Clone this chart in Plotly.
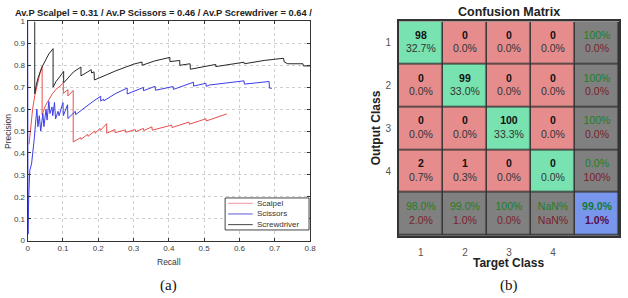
import numpy as np
import plotly.graph_objects as go

# ---------------- Precision-recall data ----------------
scalpel_recall = [0.004, 0.008, 0.014, 0.020, 0.028, 0.035, 0.041, 0.041, 0.050, 0.060, 0.070, 0.080,
                  0.090, 0.101, 0.101, 0.114, 0.114, 0.129, 0.129, 0.150, 0.151, 0.170, 0.171, 0.190,
                  0.191, 0.205, 0.206, 0.224, 0.224, 0.247, 0.248, 0.277, 0.278, 0.305, 0.306, 0.328,
                  0.329, 0.352, 0.353, 0.408, 0.409, 0.457, 0.458, 0.505, 0.506, 0.564]
scalpel_precision = [0.440, 0.520, 0.600, 0.660, 0.720, 0.765, 0.795, 0.575, 0.615, 0.645, 0.670, 0.690,
                     0.705, 0.718, 0.672, 0.689, 0.660, 0.685, 0.450, 0.470, 0.462, 0.485, 0.476, 0.500,
                     0.490, 0.512, 0.503, 0.534, 0.490, 0.507, 0.493, 0.505, 0.494, 0.507, 0.497, 0.512,
                     0.502, 0.519, 0.504, 0.527, 0.516, 0.541, 0.531, 0.556, 0.546, 0.578]

scissors_recall = [0.000, 0.001, 0.003, 0.006, 0.011, 0.016, 0.019, 0.022, 0.026, 0.029, 0.033, 0.037,
                   0.043, 0.046, 0.052, 0.055, 0.060, 0.063, 0.069, 0.071, 0.076, 0.079, 0.086, 0.089,
                   0.100, 0.101, 0.113, 0.114, 0.135, 0.136, 0.160, 0.185, 0.207, 0.207, 0.215, 0.216,
                   0.250, 0.282, 0.282, 0.328, 0.328, 0.361, 0.362, 0.412, 0.413, 0.470, 0.470, 0.505,
                   0.506, 0.515, 0.613, 0.614, 0.684, 0.685, 0.692]
scissors_precision = [1.000, 0.030, 0.200, 0.320, 0.350, 0.410, 0.470, 0.530, 0.600, 0.520, 0.570, 0.500,
                      0.580, 0.520, 0.600, 0.550, 0.635, 0.580, 0.610, 0.570, 0.630, 0.555, 0.590, 0.570,
                      0.630, 0.570, 0.620, 0.557, 0.590, 0.575, 0.605, 0.635, 0.659, 0.637, 0.645, 0.638,
                      0.672, 0.696, 0.669, 0.699, 0.684, 0.704, 0.686, 0.703, 0.690, 0.723, 0.705, 0.718,
                      0.704, 0.710, 0.729, 0.714, 0.726, 0.696, 0.695]

screwdriver_recall = [0.020, 0.020, 0.025, 0.030, 0.040, 0.050, 0.060, 0.072, 0.072, 0.080, 0.090, 0.102,
                      0.102, 0.115, 0.130, 0.151, 0.151, 0.165, 0.180, 0.181, 0.188, 0.189, 0.220, 0.250,
                      0.280, 0.300, 0.324, 0.324, 0.360, 0.403, 0.403, 0.431, 0.431, 0.460, 0.461, 0.500,
                      0.533, 0.533, 0.613, 0.614, 0.670, 0.725, 0.727, 0.737, 0.780, 0.781, 0.800]
screwdriver_precision = [1.000, 0.670, 0.715, 0.745, 0.790, 0.825, 0.852, 0.876, 0.700, 0.725, 0.748, 0.772,
                         0.720, 0.745, 0.770, 0.792, 0.752, 0.765, 0.780, 0.765, 0.770, 0.733, 0.755, 0.775,
                         0.793, 0.805, 0.815, 0.800, 0.820, 0.836, 0.817, 0.822, 0.800, 0.807, 0.782, 0.795,
                         0.804, 0.794, 0.814, 0.807, 0.822, 0.832, 0.815, 0.807, 0.807, 0.797, 0.797]

series_names = ["Scalpel", "Scissors", "Screwdriver"]
pr_title = "Av.P Scalpel = 0.31 / Av.P Scissors = 0.46 / Av.P Screwdriver = 0.64 /"
pr_ticks = [0, 0.1, 0.2, 0.3, 0.4, 0.5, 0.6, 0.7, 0.8]
pr_yticks = [0, 0.1, 0.2, 0.3, 0.4, 0.5, 0.6, 0.7, 0.8, 0.9, 1]

# ---------------- Confusion matrix data ----------------
class_labels = ["1", "2", "3", "4"]
counts = [[98, 0, 0, 0],
          [0, 99, 0, 0],
          [0, 0, 100, 0],
          [2, 1, 0, 0]]

W, H = 628, 298
FONT = "Liberation Sans, Arial, sans-serif"
AX = "#404040"


def px_x(p):
    return p / W


def px_y(p):
    return 1 - p / H


fig = go.Figure()

line_colors = ["rgb(232,80,80)", "rgb(60,60,235)", "rgb(40,40,40)"]
legend_colors = ["rgb(240,150,155)", "rgb(90,90,220)", "rgb(70,70,70)"]
for name, r, p, c in zip(series_names,
                         [scalpel_recall, scissors_recall, screwdriver_recall],
                         [scalpel_precision, scissors_precision, screwdriver_precision],
                         line_colors):
    fig.add_trace(go.Scatter(x=r, y=p, mode="lines", name=name, showlegend=False,
                             line=dict(color=c, width=1), xaxis="x", yaxis="y",
                             hoverinfo="skip"))

# ---- confusion matrix computation ----
M = np.array(counts, dtype=float)
n = M.shape[0]
total = M.sum()


def pct(v):
    if np.isnan(v):
        return "NaN%"
    if abs(v - 100) < 1e-9:
        return "100%"
    return f"{v:.1f}%"


GREEN_TXT = "#1f7f1f"
RED_TXT = "#7a1f2a"
z = np.zeros((n + 1, n + 1))
texts = []
xs, ys = [], []
for i in range(n + 1):
    for j in range(n + 1):
        xs.append(j)
        ys.append(i)
        if i < n and j < n:
            z[i, j] = 1 if i == j else 0
            texts.append(f"<b>{int(M[i, j])}</b><br><span style='color:#333'>{pct(M[i, j] / total * 100)}</span>")
        else:
            if i == n and j == n:
                z[i, j] = 3
                acc = np.trace(M) / total * 100
                texts.append(f"<b><span style='color:#137a3a'>{pct(acc)}</span></b><br>"
                             f"<b><span style='color:#5a0a40'>{pct(100 - acc)}</span></b>")
                continue
            z[i, j] = 2
            if j == n:
                s = M[i].sum()
                acc = M[i, i] / s * 100 if s > 0 else np.nan
            else:
                s = M[:, j].sum()
                acc = M[j, j] / s * 100 if s > 0 else np.nan
            err = 100 - acc if not np.isnan(acc) else np.nan
            texts.append(f"<span style='color:{GREEN_TXT}'>{pct(acc)}</span><br>"
                         f"<span style='color:{RED_TXT}'>{pct(err)}</span>")

cm_scale = [[0, "#e68c8c"], [1 / 3, "#78e2b0"], [2 / 3, "#808080"], [1, "#7896ec"]]
fig.add_trace(go.Heatmap(z=z, x=list(range(n + 1)), y=list(range(n + 1)),
                         colorscale=cm_scale, zmin=0, zmax=3, showscale=False,
                         xgap=1.5, ygap=1.5, xaxis="x2", yaxis="y2", hoverinfo="skip"))
fig.add_trace(go.Scatter(x=xs, y=ys, text=texts, mode="text", showlegend=False,
                         textfont=dict(family=FONT, size=10.5, color="#111"),
                         xaxis="x2", yaxis="y2", hoverinfo="skip"))

layout = dict(
    width=W, height=H, margin=dict(l=0, r=0, t=0, b=0),
    paper_bgcolor="white", plot_bgcolor="white",
    font=dict(family=FONT, color=AX),
    showlegend=False,
    xaxis=dict(domain=[px_x(26), px_x(312)], range=[0, 0.8], tickvals=pr_ticks,
               ticktext=[f"{t:g}" for t in pr_ticks],
               showline=True, mirror="ticks", linecolor="#333", linewidth=1,
               ticks="inside", ticklen=3, tickcolor="#333",
               showgrid=True, gridcolor="#cfcfcf", griddash="dot", zeroline=False,
               tickfont=dict(size=8, color=AX), anchor="y"),
    yaxis=dict(domain=[px_y(244), px_y(18)], range=[0, 1], tickvals=pr_yticks,
               ticktext=[f"{t:g}" for t in pr_yticks],
               showline=True, mirror="ticks", linecolor="#333", linewidth=1,
               ticks="inside", ticklen=3, tickcolor="#333",
               showgrid=True, gridcolor="#cfcfcf", griddash="dot", zeroline=False,
               tickfont=dict(size=8, color=AX), anchor="x"),
    xaxis2=dict(domain=[px_x(402), px_x(625)], range=[-0.5, n + 0.5],
                tickvals=list(range(n)), ticktext=class_labels,
                showline=True, mirror=True, linecolor="#333", linewidth=1.5,
                ticks="", showgrid=False, zeroline=False, anchor="y2",
                tickfont=dict(size=10, color="#555"), ticklabelstandoff=6),
    yaxis2=dict(domain=[px_y(239), px_y(18)], range=[n + 0.5, -0.5],
                tickvals=list(range(n)), ticktext=class_labels,
                showline=True, mirror=True, linecolor="#333", linewidth=1.5,
                ticks="", showgrid=False, zeroline=False, anchor="x2",
                tickfont=dict(size=10, color="#555"), ticklabelstandoff=4),
)
fig.update_layout(**layout)

# ---- shapes: dark background behind matrix (grid lines) + manual legend box ----
shapes = [dict(type="rect", xref="x2 domain", yref="y2 domain", x0=0, x1=1, y0=0, y1=1,
               fillcolor="#333", line=dict(width=0), layer="below"),
          dict(type="rect", xref="paper", yref="paper", x0=px_x(226), x1=px_x(311),
               y0=px_y(233), y1=px_y(200), fillcolor="white", line=dict(color="#444", width=1))]
ann = []
for k, (name, c) in enumerate(zip(series_names, legend_colors)):
    yy = 205.5 + 11 * k
    shapes.append(dict(type="line", xref="paper", yref="paper", x0=px_x(229), x1=px_x(254),
                       y0=px_y(yy), y1=px_y(yy), line=dict(color=c, width=1)))
    ann.append(dict(text=name, x=px_x(256), y=px_y(yy), xanchor="left", yanchor="middle",
                    font=dict(size=8, color="#333")))
fig.update_layout(shapes=shapes)

ann += [
    dict(text=f"<b>{pr_title}</b>", x=px_x(164), y=px_y(9), font=dict(size=9.3, color="#222")),
    dict(text="Recall", x=px_x(169), y=px_y(266), font=dict(size=8.5, color="#333")),
    dict(text="Precision", x=px_x(6), y=px_y(131), textangle=-90, font=dict(size=8.5, color="#333")),
    dict(text="(a)", x=px_x(169), y=px_y(290), font=dict(size=15, color="#111",
                                                        family="Liberation Serif, Times New Roman, serif")),
    dict(text="<b>Confusion Matrix</b>", x=px_x(514), y=px_y(8), font=dict(size=12.5, color="#222")),
    dict(text="<b>Target Class</b>", x=px_x(513), y=px_y(267), font=dict(size=12, color="#222")),
    dict(text="<b>Output Class</b>", x=px_x(379), y=px_y(128), textangle=-90, font=dict(size=12, color="#222")),
    dict(text="(b)", x=px_x(514), y=px_y(290), font=dict(size=15, color="#111",
                                                        family="Liberation Serif, Times New Roman, serif")),
]
for a in ann:
    a.setdefault("xanchor", "center")
    a.setdefault("yanchor", "middle")
    a.update(xref="paper", yref="paper", showarrow=False)
fig.update_layout(annotations=ann)

fig.write_html("out.html")
